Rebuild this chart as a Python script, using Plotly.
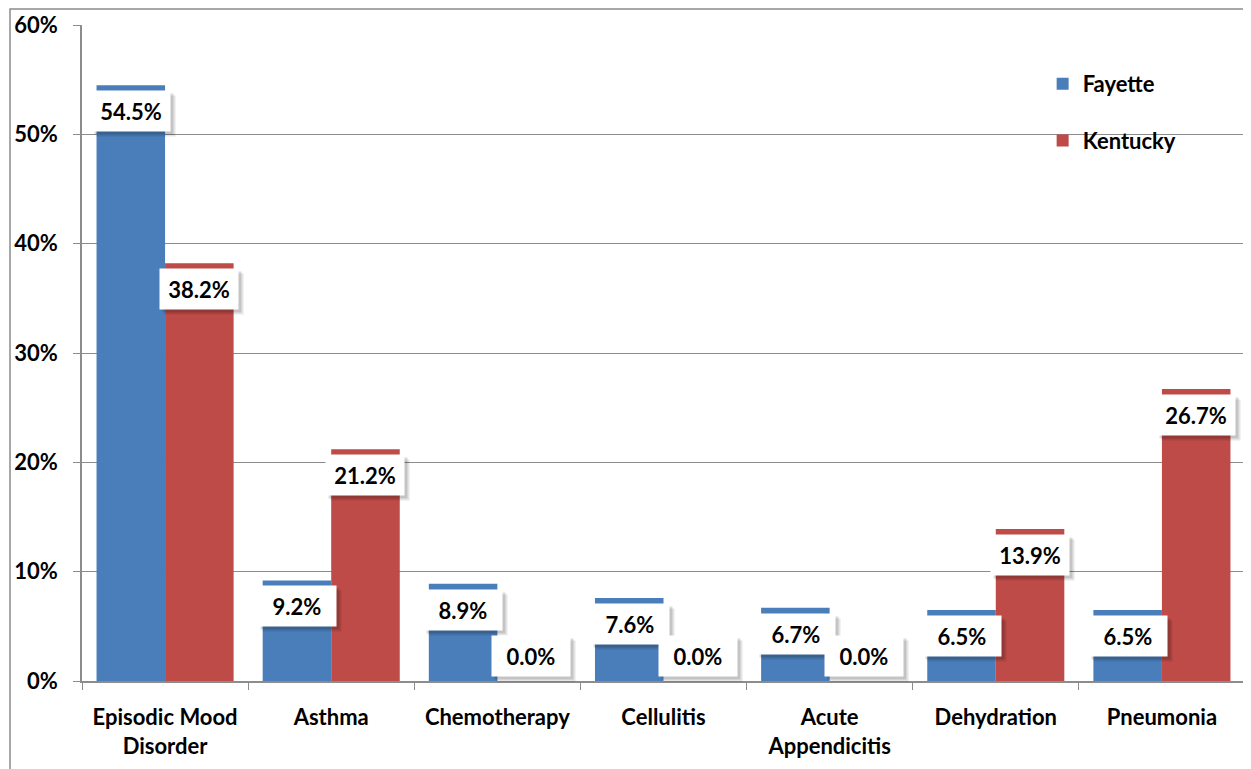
import plotly.graph_objects as go

categories = ["Episodic Mood<br>Disorder", "Asthma", "Chemotherapy", "Cellulitis",
              "Acute<br>Appendicitis", "Dehydration", "Pneumonia"]
fayette = [54.5, 9.2, 8.9, 7.6, 6.7, 6.5, 6.5]
kentucky = [38.2, 21.2, 0.0, 0.0, 0.0, 13.9, 26.7]
y_ticks = [0, 10, 20, 30, 40, 50, 60]
y_tick_labels = ["0%", "10%", "20%", "30%", "40%", "50%", "60%"]

BLUE = "#4a7ebb"
RED = "#be4b48"
GREY = "#8c8c8c"
FONT = "Lato"

fig = go.Figure()
fig.add_trace(go.Bar(x=categories, y=fayette, name="Fayette", marker_color=BLUE,
                     marker_line_width=0, legendgroup="f"))
fig.add_trace(go.Bar(x=categories, y=kentucky, name="Kentucky", marker_color=RED,
                     marker_line_width=0, legendgroup="k"))

# data labels: white boxes with a soft shadow, just inside the top of each bar
annotations = []
for vals, xs in ((fayette, -34), (kentucky, 34)):
    for cat, v in zip(categories, vals):
        ys = 25 if v == 0 else -26
        common = dict(x=cat, y=v, xref="x", yref="y", showarrow=False,
                      xanchor="center", yanchor="middle",
                      width=70, height=32, borderpad=4)
        for off, a in ((5, 0.10), (3, 0.14)):
            annotations.append(dict(common, text=" ", xshift=xs + off, yshift=ys - off,
                                    bgcolor=f"rgba(0,0,0,{a})"))
        annotations.append(dict(common, text=f"{v:.1f}%", xshift=xs, yshift=ys,
                                bgcolor="white",
                                font=dict(color="black", size=22, family=FONT, weight=700)))

# the page body adds 8px around the figure, so the figure is 8px smaller
fig.update_layout(
    width=1243, height=761,
    margin=dict(l=74, r=6, t=17, b=88),
    paper_bgcolor="white", plot_bgcolor="white",
    barmode="group", bargap=0.175, bargroupgap=0,
    font=dict(family=FONT, size=22, color="black", weight=700),
    legend=dict(x=0.826, y=0.942, xanchor="left", yanchor="top",
                tracegroupgap=25, bgcolor="rgba(0,0,0,0)",
                font=dict(size=22, family=FONT, weight=700)),
    annotations=annotations,
    shapes=[dict(type="rect", xref="paper", yref="paper",
                 x0=-0.0619, x1=1.0009, y0=-0.2, y1=1.0244,
                 line=dict(color=GREY, width=1.5), layer="below")],
)
fig.update_xaxes(showline=True, linecolor=GREY, linewidth=1.5, automargin=False,
                 ticks="outside", tickson="boundaries", ticklen=7, tickcolor=GREY,
                 ticklabelstandoff=16,
                 tickfont=dict(size=22, family=FONT, weight=700), showgrid=False)
fig.update_yaxes(range=[0, 60], tickvals=y_ticks, ticktext=y_tick_labels, automargin=False,
                 showline=True, linecolor=GREY, linewidth=1.5,
                 ticks="outside", ticklen=7, tickcolor=GREY, ticklabelstandoff=11,
                 showgrid=True, gridcolor=GREY, gridwidth=1, zeroline=False,
                 tickfont=dict(size=22, family=FONT, weight=700))

fig.write_html("out.html")
